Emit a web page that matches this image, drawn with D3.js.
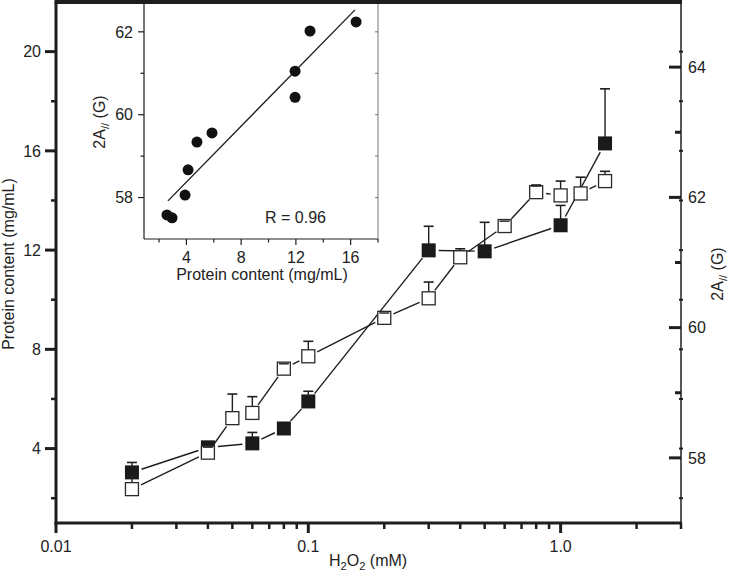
<!DOCTYPE html>
<html><head><meta charset="utf-8">
<script src="https://cdn.jsdelivr.net/npm/d3@7"></script>
<style>body{margin:0;background:#fff}svg{display:block}text{font-family:"Liberation Sans",Arial,Helvetica,sans-serif;fill:#222}</style>
</head><body><div id="chart"></div>
<script>
// ---- data ----
const h2o2Filled = [0.02,0.04,0.06,0.08,0.1,0.3,0.5,1.0,1.5];
const protein    = [3.04,4.05,4.21,4.81,5.90,11.99,11.95,13.0,16.3];
const proteinErr = [0.40,0.05,0.44,0,0.41,0.97,1.17,0.8,2.2];

const h2o2Open = [0.02,0.04,0.05,0.06,0.08,0.1,0.2,0.3,0.4,0.6,0.8,1.0,1.2,1.5];
const a2       = [57.52,58.08,58.61,58.69,59.37,59.56,60.15,60.45,61.08,61.56,62.08,62.03,62.06,62.25];
const a2Err    = [0.2,0.10,0.37,0.25,0.09,0.23,0.09,0.25,0.13,0.09,0.11,0.22,0.25,0.15];

const xMajorTicks = [0.01,0.1,1];
const xTickLabels = ["0.01","0.1","1.0"];
const leftTicks = [4,8,12,16,20];
const rightTicks = [58,60,62,64];

const insetProtein = [2.58,2.95,3.9,4.12,4.77,5.87,11.94,11.94,13.03,16.4];
const insetA2      = [57.58,57.51,58.06,58.67,59.34,59.56,61.05,60.42,62.02,62.24];
const fitX = [2.65,16.32];
const fitY = [57.92,62.53];
const insetXTicks = [4,8,12,16];
const insetYTicks = [58,60,62];

// ---- layout ----
const W=730,H=574;
const svg=d3.select("#chart").append("svg").attr("width",W).attr("height",H);
const L=56,R=681,T=2,B=523;
const x=d3.scaleLog().domain([0.01,3]).range([L,R]);
const yL=d3.scaleLinear().domain([1,22]).range([B,T]);
const yR=d3.scaleLinear().domain([57,65]).range([B,T]);
const ink="#1e1e1e";
const FS=16;

// frame lines
svg.append("line").attr("x1",L).attr("x2",L).attr("y1",T).attr("y2",B+1.5).attr("stroke",ink).attr("stroke-width",3);
svg.append("line").attr("x1",L-1.5).attr("x2",R+1).attr("y1",B).attr("y2",B).attr("stroke",ink).attr("stroke-width",3);
svg.append("line").attr("x1",R).attr("x2",R).attr("y1",T).attr("y2",B+1.5).attr("stroke",ink).attr("stroke-width",1.5);

// bottom axis ticks
const minorX=[];
[0.01,0.1,1].forEach(d=>{for(let k=2;k<=9;k++){const v=d*k;if(v<=3.0001)minorX.push(v);}});
svg.selectAll(".mxt").data(minorX).enter().append("line")
 .attr("x1",d=>x(d)).attr("x2",d=>x(d)).attr("y1",B).attr("y2",B+6).attr("stroke",ink).attr("stroke-width",2.5);
svg.selectAll(".Mxt").data(xMajorTicks).enter().append("line")
 .attr("x1",d=>x(d)).attr("x2",d=>x(d)).attr("y1",B).attr("y2",B+10).attr("stroke",ink).attr("stroke-width",3);
svg.selectAll(".xtl").data(xMajorTicks).enter().append("text")
 .attr("x",d=>x(d)).attr("y",552).attr("text-anchor","middle").attr("font-size",FS).text((d,i)=>xTickLabels[i]);

// left axis ticks
const leftMinor=d3.range(2,21,2).filter(v=>v%4!==0);
svg.selectAll(".lmt").data(leftMinor).enter().append("line")
 .attr("x1",L-5).attr("x2",L).attr("y1",d=>yL(d)).attr("y2",d=>yL(d)).attr("stroke",ink).attr("stroke-width",2.5);
svg.selectAll(".lMt").data(leftTicks).enter().append("line")
 .attr("x1",L-11).attr("x2",L).attr("y1",d=>yL(d)).attr("y2",d=>yL(d)).attr("stroke",ink).attr("stroke-width",3);
svg.selectAll(".ltl").data(leftTicks).enter().append("text")
 .attr("x",41).attr("y",d=>yL(d)).attr("dy","0.36em").attr("text-anchor","end").attr("font-size",FS).text(d=>d);

// right axis ticks
const rightAll=d3.range(58,65,1);
svg.selectAll(".rt").data(rightAll).enter().append("line")
 .attr("x1",d=>d%2===0?R-12:R-6).attr("x2",R).attr("y1",d=>yR(d)).attr("y2",d=>yR(d)).attr("stroke",ink).attr("stroke-width",3);
svg.selectAll(".rdot").data(d3.range(2,21,2)).enter().append("line")
 .attr("x1",R-2).attr("x2",R+2).attr("y1",d=>yL(d)).attr("y2",d=>yL(d)).attr("stroke",ink).attr("stroke-width",2);
svg.selectAll(".rtl").data(rightTicks).enter().append("text")
 .attr("x",688).attr("y",d=>yR(d)).attr("dy","0.36em").attr("font-size",FS).text(d=>d);

// axis titles
svg.append("text").attr("transform","translate(14,264) rotate(-90)").attr("text-anchor","middle").attr("font-size",FS).text("Protein content (mg/mL)");
const xt=svg.append("text").attr("x",368).attr("y",566).attr("text-anchor","middle").attr("font-size",FS);
xt.append("tspan").text("H");
xt.append("tspan").attr("font-size",FS*0.7).attr("dy",3.5).text("2");
xt.append("tspan").attr("dy",-3.5).text("O");
xt.append("tspan").attr("font-size",FS*0.7).attr("dy",3.5).text("2");
xt.append("tspan").attr("dy",-3.5).text(" (mM)");
const rt=svg.append("text").attr("transform","translate(723,274) rotate(-90)").attr("text-anchor","middle").attr("font-size",FS);
rt.append("tspan").text("2A");
rt.append("tspan").attr("font-size",FS*0.7).attr("dy",3.5).text("//");
rt.append("tspan").attr("dy",-3.5).text(" (G)");

// ---- series drawing helpers ----
function segments(xs,ys,gap){
  const out=[];
  for(let i=0;i<xs.length-1;i++){
    const x1=xs[i],y1=ys[i],x2=xs[i+1],y2=ys[i+1];
    const dx=x2-x1,dy=y2-y1,len=Math.hypot(dx,dy);
    if(len<2*gap+1)continue;
    const ux=dx/len,uy=dy/len;
    out.push([x1+ux*gap,y1+uy*gap,x2-ux*gap,y2-uy*gap]);
  }
  return out;
}
function drawSeries(xs,vals,errs,yS,filled){
  const px=xs.map(d=>x(d)), py=vals.map(d=>yS(d));
  const g=svg.append("g");
  g.selectAll("line.seg").data(segments(px,py,10)).enter().append("line")
   .attr("x1",d=>d[0]).attr("y1",d=>d[1]).attr("x2",d=>d[2]).attr("y2",d=>d[3])
   .attr("stroke",ink).attr("stroke-width",1.4);
  const ed=xs.map((d,i)=>({cx:px[i],cy:py[i],top:yS(vals[i]+errs[i]),e:errs[i]})).filter(d=>d.e>0);
  g.selectAll("line.eb").data(ed).enter().append("line")
   .attr("x1",d=>d.cx).attr("x2",d=>d.cx).attr("y1",d=>d.cy).attr("y2",d=>d.top).attr("stroke",ink).attr("stroke-width",1.4);
  g.selectAll("line.cap").data(ed).enter().append("line")
   .attr("x1",d=>d.cx-5).attr("x2",d=>d.cx+5).attr("y1",d=>d.top).attr("y2",d=>d.top).attr("stroke",ink).attr("stroke-width",1.6);
  const s=filled?14:13;
  g.selectAll("rect").data(px).enter().append("rect")
   .attr("x",(d)=>d-s/2).attr("y",(d,i)=>py[i]-s/2).attr("width",s).attr("height",s)
   .attr("fill",filled?"#1a1a1a":"#fff").attr("stroke",filled?"none":"#2a2a2a").attr("stroke-width",1.3);
  if(!filled){
    g.selectAll("line.eb2").data(ed.filter(d=>d.cy-d.top<s/2+1)).enter().append("line")
     .attr("x1",d=>d.cx-5).attr("x2",d=>d.cx+5).attr("y1",d=>d.top+1).attr("y2",d=>d.top+1).attr("stroke",ink).attr("stroke-width",1.4);
  }
}
drawSeries(h2o2Filled,protein,proteinErr,yL,true);
drawSeries(h2o2Open,a2,a2Err,yR,false);

// ---- inset ----
const IL=144,IR=378,IT=2,IB=239;
const xi=d3.scaleLinear().domain([0.9,18]).range([IL,IR]);
const yi=d3.scaleLinear().domain([57,62.72]).range([IB,IT]);
svg.append("rect").attr("x",IL).attr("y",IT).attr("width",IR-IL).attr("height",IB-IT).attr("fill","#fff").attr("stroke","none");
svg.append("line").attr("x1",IL).attr("x2",IL).attr("y1",IT).attr("y2",IB).attr("stroke",ink).attr("stroke-width",1.2);
svg.append("line").attr("x1",IL).attr("x2",IR).attr("y1",IB).attr("y2",IB).attr("stroke",ink).attr("stroke-width",1.2);
svg.append("line").attr("x1",IR).attr("x2",IR).attr("y1",IT).attr("y2",IB).attr("stroke","#555").attr("stroke-width",0.8);
svg.append("line").attr("x1",L-1.5).attr("x2",R+1).attr("y1",T).attr("y2",T).attr("stroke",ink).attr("stroke-width",4);

const ixAll=d3.range(2,19,2);
svg.selectAll(".ixt").data(ixAll).enter().append("line")
 .attr("x1",d=>xi(d)).attr("x2",d=>xi(d)).attr("y1",IB).attr("y2",d=>d%4===0?IB+6:IB+3.5).attr("stroke",ink).attr("stroke-width",1.2);
svg.selectAll(".ixl").data(insetXTicks).enter().append("text")
 .attr("x",d=>xi(d)).attr("y",263).attr("text-anchor","middle").attr("font-size",FS).text(d=>d);
const iyAll=d3.range(58,63,1);
svg.selectAll(".iyt").data(iyAll).enter().append("line")
 .attr("x1",d=>d%2===0?IL-6:IL-3.5).attr("x2",IL).attr("y1",d=>yi(d)).attr("y2",d=>yi(d)).attr("stroke",ink).attr("stroke-width",1.2);
svg.selectAll(".iyr").data(iyAll).enter().append("line")
 .attr("x1",IR-3).attr("x2",IR).attr("y1",d=>yi(d)).attr("y2",d=>yi(d)).attr("stroke","#555").attr("stroke-width",0.8);
svg.selectAll(".iyl").data(insetYTicks).enter().append("text")
 .attr("x",133).attr("y",d=>yi(d)).attr("dy","0.36em").attr("text-anchor","end").attr("font-size",FS).text(d=>d);
svg.append("text").attr("x",262).attr("y",280).attr("text-anchor","middle").attr("font-size",FS).text("Protein content (mg/mL)");
const iyt=svg.append("text").attr("transform","translate(105,122) rotate(-90)").attr("text-anchor","middle").attr("font-size",FS);
iyt.append("tspan").text("2A");
iyt.append("tspan").attr("font-size",FS*0.7).attr("dy",3.5).text("//");
iyt.append("tspan").attr("dy",-3.5).text(" (G)");

svg.append("line").attr("x1",xi(fitX[0])).attr("y1",yi(fitY[0])).attr("x2",xi(fitX[1])).attr("y2",yi(fitY[1]))
 .attr("stroke",ink).attr("stroke-width",1.4);
svg.selectAll(".idot").data(insetProtein).enter().append("circle")
 .attr("cx",d=>xi(d)).attr("cy",(d,i)=>yi(insetA2[i])).attr("r",5.5).attr("fill","#111");
svg.append("text").attr("x",265).attr("y",223).attr("font-size",FS).text("R = 0.96");
</script></body></html>
